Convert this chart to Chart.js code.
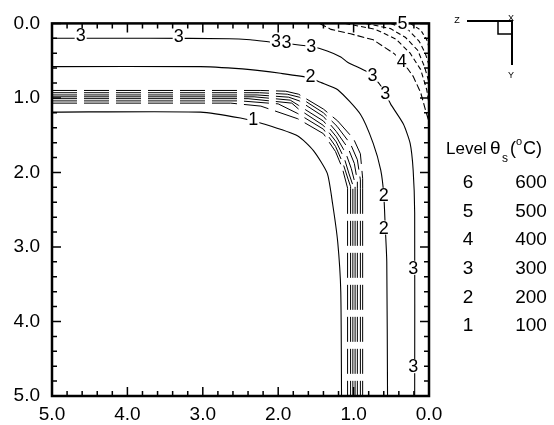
<!DOCTYPE html>
<html>
<head>
<meta charset="utf-8">
<script src="https://cdn.jsdelivr.net/npm/chart.js@4.4.0/dist/chart.umd.min.js"></script>
<style>
  html, body { margin: 0; padding: 0; background: #fff; }
  canvas { display: block; }
</style>
</head>
<body>
<canvas id="myChart" width="554" height="425"></canvas>
<script>
// x = distance from the right face, y = distance from the top face
const tickValues = [0, 1, 2, 3, 4, 5];
const tickLabels = ['0.0', '1.0', '2.0', '3.0', '4.0', '5.0'];

const levels = [6, 5, 4, 3, 2, 1];
const temps = [600, 500, 400, 300, 200, 100];

// contour lines, [x, y]
const level1 = [[5.0,1.19],[3.03,1.19],[2.50,1.27],[2.19,1.35],[1.74,1.51],[1.53,1.71],[1.35,2.01],[1.28,2.41],[1.21,2.94],[1.17,3.60],[1.16,5.0]];
const level2 = [[5.0,0.58],[3.03,0.58],[2.37,0.62],[1.97,0.67],[1.58,0.73],[1.44,0.79],[1.21,0.89],[0.91,1.22],[0.74,1.61],[0.64,1.97],[0.60,2.30],[0.58,2.74],[0.56,3.20],[0.55,5.0]];
const level3 = [[5.0,0.20],[3.7,0.20],[2.65,0.205],[2.37,0.22],[2.10,0.25],[1.80,0.28],[1.56,0.31],[1.35,0.37],[1.17,0.45],[1.08,0.52],[0.82,0.65],[0.72,0.73],[0.58,0.93],[0.51,1.08],[0.34,1.35],[0.25,1.61],[0.21,1.97],[0.19,2.54],[0.19,5.0]];
const level4 = [[1.45,0.0],[1.30,0.08],[1.04,0.14],[0.74,0.22],[0.47,0.40],[0.36,0.50],[0.21,0.71],[0.11,0.93],[0.05,1.15],[0.0,1.32]];
const cornerB = [[1.11,0.0],[0.71,0.08],[0.44,0.21],[0.25,0.40],[0.11,0.62],[0.03,0.89],[0.0,1.08]];
const cornerC = [[0.84,0.0],[0.51,0.07],[0.31,0.19],[0.15,0.36],[0.06,0.58],[0.0,0.79]];
const cornerD = [[0.51,0.0],[0.27,0.09],[0.13,0.24],[0.05,0.40],[0.0,0.56]];
const cornerE = [[0.25,0.0],[0.11,0.09],[0.03,0.22],[0.0,0.32]];

// dashed bundle along the inner boundary: horizontal run and bend...
const band0 = [[5.0,0.90],[2.23,0.90],[1.90,0.91],[1.73,0.95],[1.40,1.15],[1.21,1.31],[1.00,1.55],[0.91,1.75],[0.88,2.08],[0.88,2.22]];
const band1 = [[5.0,0.93],[2.25,0.93],[1.88,0.95],[1.72,0.99],[1.40,1.20],[1.22,1.38],[1.04,1.62],[0.95,1.83],[0.91,2.10],[0.91,2.22]];
const band2 = [[5.0,0.96],[2.28,0.96],[1.86,0.99],[1.72,1.04],[1.40,1.25],[1.23,1.45],[1.07,1.68],[0.99,1.88],[0.95,2.12],[0.95,2.22]];
const band3 = [[5.0,0.985],[2.32,0.985],[1.84,1.03],[1.73,1.10],[1.40,1.31],[1.23,1.52],[1.10,1.75],[1.03,1.95],[0.98,2.15],[0.98,2.22]];
const band4 = [[5.0,1.01],[2.40,1.01],[1.82,1.07],[1.73,1.15],[1.40,1.37],[1.23,1.59],[1.12,1.82],[1.06,2.02],[1.01,2.17],[1.01,2.22]];
const band5 = [[5.0,1.04],[2.50,1.04],[2.00,1.08],[1.74,1.21],[1.40,1.42],[1.24,1.65],[1.14,1.88],[1.07,2.10],[1.04,2.19],[1.04,2.22]];
const band6 = [[5.0,1.07],[2.63,1.07],[2.23,1.11],[1.74,1.28],[1.40,1.48],[1.24,1.72],[1.15,1.94],[1.08,2.21],[1.08,2.22]];
// ...and the vertical run below it
const bandColumnX = [0.88, 0.91, 0.95, 0.98, 1.01, 1.04, 1.08];
const bandColumnY = [2.22, 5.0];

// inline contour labels [text, x, y]
const contourLabels = [
    ['3', 4.62, 0.16], ['3', 3.32, 0.17], ['3', 2.03, 0.24], ['3', 1.89, 0.25], ['3', 1.56, 0.30],
    ['3', 0.75, 0.69], ['3', 0.58, 0.94], ['3', 0.21, 3.28], ['3', 0.21, 4.60],
    ['2', 1.57, 0.71], ['2', 0.60, 2.30], ['2', 0.60, 2.74],
    ['1', 2.33, 1.28],
    ['4', 0.36, 0.50], ['5', 0.35, 0.0],
];

const FONT = '"Liberation Sans", Arial, sans-serif';
const toXY = (pts) => pts.map(([x, y]) => ({ x, y }));

const line = (pts, opts) => Object.assign({
    data: toXY(pts),
    showLine: true,
    pointRadius: 0,
    borderColor: '#000',
    borderWidth: 1.1,
    fill: false,
    tension: 0,
}, opts);

const bandDash = [25, 7];

const datasets = [
    line(level1, { tension: 0.2 }),
    line(level2, { tension: 0.2 }),
    line(level3, { tension: 0.2 }),
    line(level4, { borderDash: [7, 3] }),
    line(cornerB, { borderDash: [5, 3] }),
    line(cornerC, { borderDash: [5, 3] }),
    line(cornerD, { borderDash: [5, 3] }),
    line(cornerE, { borderDash: [4, 3] }),
];
[band0, band1, band2, band3, band4, band5, band6].forEach((b) => {
    datasets.push(line(b, { borderWidth: 1, borderDash: bandDash }));
});
bandColumnX.forEach((bx) => {
    datasets.push(line(bandColumnY.map((by) => [bx, by]), { borderWidth: 1, borderDash: bandDash }));
});

const framePlugin = {
    id: 'frame',
    afterDatasetsDraw(chart) {
        const { ctx, chartArea: a, scales: { x, y } } = chart;
        ctx.save();
        ctx.strokeStyle = '#000';
        ctx.lineWidth = 1.5;
        ctx.beginPath();
        for (let i = 0; i <= 25; i++) {
            const v = i / 5;
            const len = i % 5 === 0 ? 9 : 5;
            const px = x.getPixelForValue(v);
            const py = y.getPixelForValue(v);
            ctx.moveTo(px, a.bottom); ctx.lineTo(px, a.bottom - len);
            ctx.moveTo(px, a.top); ctx.lineTo(px, a.top + len);
            ctx.moveTo(a.left, py); ctx.lineTo(a.left + len, py);
            ctx.moveTo(a.right, py); ctx.lineTo(a.right - len, py);
        }
        ctx.stroke();
        ctx.lineWidth = 2.5;
        ctx.strokeRect(a.left, a.top, a.right - a.left, a.bottom - a.top);
        ctx.restore();
    },
    afterDraw(chart) {
        const { ctx, scales: { x, y } } = chart;
        ctx.save();

        // contour labels with a white box behind
        ctx.font = '18px ' + FONT;
        ctx.textAlign = 'center';
        ctx.textBaseline = 'middle';
        contourLabels.forEach(([t, vx, vy]) => {
            const px = x.getPixelForValue(vx);
            const py = y.getPixelForValue(vy);
            const w = ctx.measureText(t).width;
            ctx.fillStyle = '#fff';
            ctx.fillRect(px - w / 2 - 1, py - 7, w + 2, 14);
            ctx.fillStyle = '#000';
            ctx.fillText(t, px, py + 1);
        });

        // orientation glyph
        ctx.strokeStyle = '#000';
        ctx.lineWidth = 2;
        ctx.beginPath();
        ctx.moveTo(467, 21); ctx.lineTo(512, 21); ctx.lineTo(512, 65);
        ctx.stroke();
        ctx.lineWidth = 1.5;
        ctx.strokeRect(498, 21, 14, 13);
        ctx.font = '9px ' + FONT;
        ctx.fillStyle = '#000';
        ctx.fillText('Z', 457, 21);
        ctx.fillText('X', 511, 19);
        ctx.fillText('Y', 511, 76);

        // level table
        ctx.textAlign = 'left';
        ctx.font = '17px ' + FONT;
        ctx.fillText('Level', 446, 149);
        ctx.font = '19px ' + FONT;
        ctx.fillText('\u03b8', 490, 149);
        ctx.font = '12px ' + FONT;
        ctx.fillText('s', 502, 159);
        ctx.font = '18px ' + FONT;
        ctx.fillText('(', 510, 149);
        ctx.font = '11px ' + FONT;
        ctx.fillText('o', 516, 142);
        ctx.font = '18px ' + FONT;
        ctx.fillText('C)', 523, 149);

        ctx.textAlign = 'center';
        ctx.font = '19px ' + FONT;
        levels.forEach((lv, i) => {
            const ry = 183 + i * 28.6;
            ctx.fillText(String(lv), 468, ry);
            ctx.fillText(String(temps[i]), 531, ry);
        });
        ctx.restore();
    },
};

new Chart(document.getElementById('myChart'), {
    type: 'scatter',
    data: { datasets },
    options: {
        responsive: false,
        animation: false,
        events: [],
        layout: { padding: { top: 18, right: 125, left: 0, bottom: 0 } },
        plugins: {
            legend: { display: false },
            tooltip: { enabled: false },
        },
        scales: {
            x: {
                type: 'linear',
                min: 0,
                max: 5,
                reverse: true,
                afterFit: (s) => { s.height = 29; },
                afterBuildTicks: (s) => { s.ticks = tickValues.map((v) => ({ value: v })); },
                grid: { display: false, drawTicks: false },
                border: { display: false },
                ticks: {
                    padding: 7,
                    color: '#000',
                    font: { family: FONT, size: 19 },
                    callback: (v) => tickLabels[tickValues.indexOf(v)],
                },
            },
            y: {
                type: 'linear',
                min: 0,
                max: 5,
                reverse: true,
                afterFit: (s) => { s.width = 52; },
                afterBuildTicks: (s) => { s.ticks = tickValues.map((v) => ({ value: v })); },
                grid: { display: false, drawTicks: false },
                border: { display: false },
                ticks: {
                    padding: 12,
                    color: '#000',
                    font: { family: FONT, size: 19 },
                    callback: (v) => tickLabels[tickValues.indexOf(v)],
                },
            },
        },
    },
    plugins: [framePlugin],
});
</script>
</body>
</html>
